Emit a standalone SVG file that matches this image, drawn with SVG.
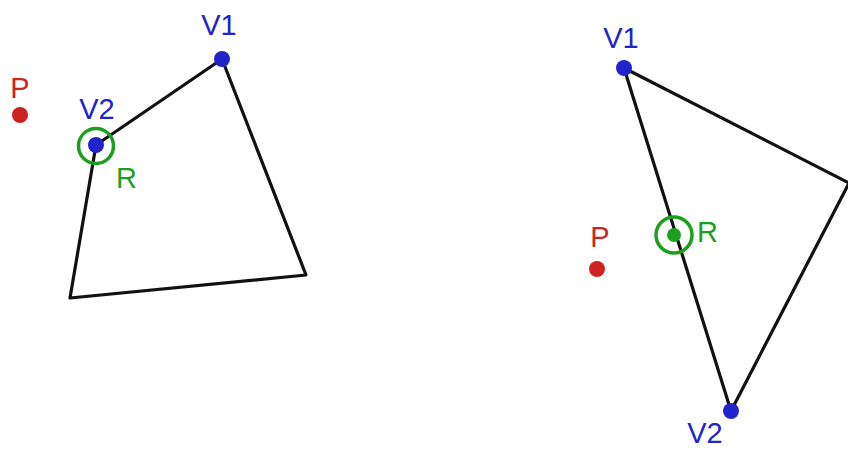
<svg xmlns="http://www.w3.org/2000/svg" width="848" height="450" viewBox="0 0 848 450">
<style>
.edge{fill:none;stroke:#111;stroke-width:3.2;stroke-linejoin:round;stroke-linecap:round}
.lbl{font-family:"Liberation Sans",Arial,sans-serif;font-size:29px}
.b{fill:#2323cc}
.r{fill:#cc2222}
.g{fill:#1e9e1e}
.ring{fill:none;stroke:#1e9e1e;stroke-width:3.5}
</style>
<rect width="848" height="450" fill="#fff"/>
<g id="connectors">
<polygon class="edge" points="222,59 96,145 70,298 306,275"/>
<polygon class="edge" points="624,68 849,183 731,411"/>
</g>
<g id="left-P"><circle class="r" cx="20" cy="115" r="8"/><text class="lbl r" x="20" y="98" text-anchor="middle">P</text></g>
<g id="left-V1"><circle class="b" cx="222" cy="59" r="8"/><text class="lbl b" x="219" y="35" text-anchor="middle">V1</text></g>
<g id="left-V2"><circle class="b" cx="96" cy="145" r="8"/><text class="lbl b" x="97" y="119" text-anchor="middle">V2</text></g>
<g id="left-R"><circle class="ring" cx="96" cy="146" r="17.5"/><text class="lbl g" x="116" y="188">R</text></g>
<g id="right-P"><circle class="r" cx="597" cy="269" r="8"/><text class="lbl r" x="600" y="247" text-anchor="middle">P</text></g>
<g id="right-V1"><circle class="b" cx="624" cy="68" r="8"/><text class="lbl b" x="621" y="48" text-anchor="middle">V1</text></g>
<g id="right-V2"><circle class="b" cx="731" cy="411" r="8"/><text class="lbl b" x="705" y="443" text-anchor="middle">V2</text></g>
<g id="right-R"><circle class="g" cx="674" cy="235" r="7"/><circle class="ring" cx="674" cy="235" r="18"/><text class="lbl g" x="697" y="242">R</text></g>
</svg>
